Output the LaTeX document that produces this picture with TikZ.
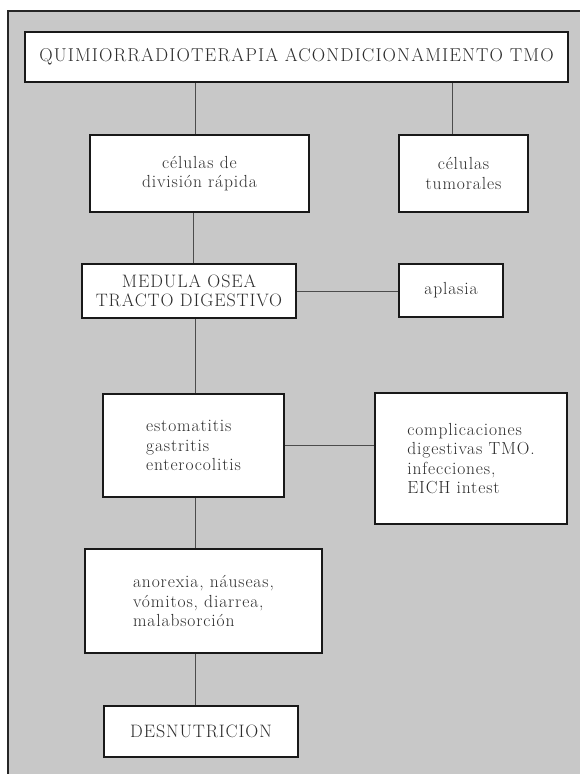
\documentclass[tikz,border=0pt]{standalone}
\usepackage{fontspec}
\setmainfont{Latin Modern Roman}
\definecolor{bggray}{RGB}{200,200,200}
\definecolor{inkgray}{RGB}{45,45,45}
\begin{document}
\begin{tikzpicture}[x=1pt,y=-1pt,
  box/.style={draw=black!90, line width=1.6pt, fill=white, inner sep=0pt,
    text=inkgray, font=\fontsize{17.5}{19.5}\selectfont\addfontfeatures{LetterSpace=5}},
  capsbox/.style={box, font=\fontsize{18}{19.5}\selectfont\addfontfeatures{LetterSpace=5}},
  link/.style={draw=black!70, line width=0.9pt}]
\useasboundingbox (0,0) rectangle (580,774);
% background panel
\fill[bggray] (8,11) rectangle (580,774);
\draw[black!85, line width=1.6pt] (8,774) -- (8,11) -- (580,11);
% boxes
\node[capsbox, minimum width=543pt, minimum height=50pt, font=\fontsize{18.6}{20}\selectfont\addfontfeatures{LetterSpace=6}]
  (top) at (296.5,57) {QUIMIORRADIOTERAPIA ACONDICIONAMIENTO TMO};
\node[box, minimum width=219pt, minimum height=77pt, align=center]
  (cel) at (199.5,173.5) {células de\\división rápida};
\node[box, minimum width=129pt, minimum height=77pt, align=center]
  (tum) at (463.5,173.5) {células\\tumorales};
\node[capsbox, minimum width=214pt, minimum height=54pt, align=center]
  (med) at (189,291) {MEDULA OSEA\\TRACTO DIGESTIVO};
\node[box, minimum width=104pt, minimum height=53pt]
  (apl) at (451,290.5) {aplasia};
\node[box, minimum width=181pt, minimum height=103pt, align=left]
  (est) at (193.5,445.5) {estomatitis\\gastritis\\enterocolitis};
\node[box, minimum width=192pt, minimum height=131pt, align=left]
  (comp) at (471,458.5) {complicaciones\\digestivas TMO.\\infecciones,\\EICH intest};
\node[box, minimum width=237pt, minimum height=104pt, align=left]
  (ano) at (203.5,601) {anorexia, náuseas,\\vómitos, diarrea,\\malabsorción};
\node[capsbox, minimum width=194pt, minimum height=51pt]
  (des) at (201,731.5) {DESNUTRICION};
% connector columns
\coordinate (ca) at (195,0);
\coordinate (cb) at (193,0);
\coordinate (cr) at (452,0);
% connectors
\draw[link] (ca |- top.south) -- (ca |- cel.north);
\draw[link] (cr |- top.south) -- (cr |- tum.north);
\draw[link] (cb |- cel.south) -- (cb |- med.north);
\draw[link] (med.east) -- (med.east -| apl.west);
\draw[link] (ca |- med.south) -- (ca |- est.north);
\draw[link] (est.east) -- (est.east -| comp.west);
\draw[link] (ca |- est.south) -- (ca |- ano.north);
\draw[link] (ca |- ano.south) -- (ca |- des.north);
\end{tikzpicture}
\end{document}
